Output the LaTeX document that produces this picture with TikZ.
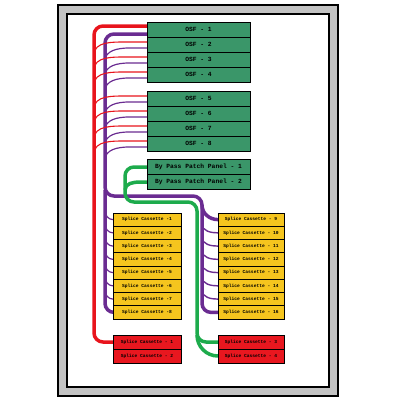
\documentclass[tikz,border=0pt]{standalone}
\usepackage{fontspec}
\setmonofont{Liberation Mono}
\usetikzlibrary{calc}
\definecolor{osfgreen}{HTML}{3A9669}
\definecolor{cassyellow}{HTML}{F5C51E}
\definecolor{cassred}{HTML}{E8171F}
\definecolor{framegray}{HTML}{C3C3C3}
\definecolor{wred}{HTML}{E8141C}
\definecolor{wpurple}{HTML}{6A2C91}
\definecolor{wgreen}{HTML}{1DAB4C}
\tikzset{
  osfbox/.style={draw=black, line width=1pt, fill=osfgreen, minimum width=103pt, minimum height=15pt, inner sep=0pt, outer sep=0pt, font=\ttfamily\bfseries\fontsize{6.3}{7}\selectfont},
  ybox/.style={draw=black, line width=1pt, fill=cassyellow, minimum width=68pt, minimum height=13.25pt, inner sep=0pt, outer sep=0pt, font=\ttfamily\bfseries\fontsize{4.6}{5}\selectfont},
  rbox/.style={draw=black, line width=1pt, fill=cassred, minimum width=68pt, minimum height=14pt, inner sep=0pt, outer sep=0pt, font=\ttfamily\bfseries\fontsize{4.6}{5}\selectfont},
  wthickred/.style={draw=wred, line width=3.5pt},
  wthickpurple/.style={draw=wpurple, line width=3.5pt},
  wthickgreen/.style={draw=wgreen, line width=3.5pt},
  wthinred/.style={draw=wred, line width=1.1pt},
  wthinpurple/.style={draw=wpurple, line width=1.2pt},
}
\begin{document}
\begin{tikzpicture}[x=1pt,y=-1pt]
\useasboundingbox (0,0) rectangle (400,400);
% frame
\draw[line width=1.2pt, fill=framegray] (58,5) rectangle (338,396);
\draw[line width=1.2pt, fill=white] (67,14) rectangle (329,387);

% wires behind boxes
% thick red
\draw[wthickred, rounded corners=9] (147,26) -- (94,26) -- (94,342) -- (113,342);
% thick purple
\draw[wthickpurple, rounded corners=9] (147,34) -- (105,34) -- (105,196) -- (202,196) -- (202,312.4) -- (218,312.4);
\draw[wthickpurple, rounded corners=9] (105,190) -- (105,312.4) -- (113,312.4);
\draw[wthickpurple] (202,205) to[out=-90,in=180] (218,219.6);
% thick green
\draw[wthickgreen, rounded corners=9] (147,167) -- (125,167) -- (125,202) -- (197,202) -- (197,342) -- (218,342);
\draw[wthickgreen] (125,190) to[out=90,in=180] (140,182) -- (147,182);
\draw[wthickgreen] (197,335) to[out=-90,in=180] (218,356);

% OSF boxes
\node[osfbox] (osf1) at (198.5,29.5) {OSF - 1};
\node[osfbox] (osf2) at (198.5,44.5) {OSF - 2};
\node[osfbox] (osf3) at (198.5,59.5) {OSF - 3};
\node[osfbox] (osf4) at (198.5,74.5) {OSF - 4};
\node[osfbox] (osf5) at (198.5,98.5) {OSF - 5};
\node[osfbox] (osf6) at (198.5,113.5) {OSF - 6};
\node[osfbox] (osf7) at (198.5,128.5) {OSF - 7};
\node[osfbox] (osf8) at (198.5,143.5) {OSF - 8};
\node[osfbox] (bp1) at (198.5,167) {By Pass Patch Panel - 1};
\node[osfbox] (bp2) at (198.5,182) {By Pass Patch Panel - 2};

% yellow cassettes
\foreach \i in {1,...,8}{
  \node[ybox] (yl\i) at (147,{213+13.25*(\i-1)+6.625}) {Splice Cassette -\i};
}
\foreach \i [evaluate=\i as \k using int(\i+8)] in {1,...,8}{
  \node[ybox, minimum width=66pt] (yr\i) at (251,{213+13.25*(\i-1)+6.625}) {Splice Cassette - \k};
}
% red cassettes
\node[rbox] (rc1) at (147,342) {Splice Cassette - 1};
\node[rbox] (rc2) at (147,356) {Splice Cassette - 2};
\node[rbox, minimum width=66pt] (rc3) at (251,342) {Splice Cassette - 3};
\node[rbox, minimum width=66pt] (rc4) at (251,356) {Splice Cassette - 4};

% thin wires to OSF 2..8
\foreach \n in {osf2,osf3,osf4,osf5,osf6,osf7,osf8}{
  \draw[wthinred] ($(\n.north west)+(0,5)$) -- ++(-20,0) to[out=180,in=90] ($(\n.north west)+(-53,18)$);
  \draw[wthinpurple] ($(\n.north west)+(0,11)$) -- ++(-18,0) to[out=180,in=90] ($(\n.north west)+(-42,24)$);
}
% thin purple to cassettes
\foreach \i in {1,...,7}{
  \draw[wthinpurple] ($(yl\i.west)+(-8,-9)$) to[out=-90,in=180] (yl\i.west);
}
\foreach \i in {2,...,7}{
  \draw[wthinpurple, line width=1.4pt] ($(yr\i.west)+(-16,-9)$) to[out=-90,in=180] (yr\i.west);
}
\end{tikzpicture}
\end{document}
